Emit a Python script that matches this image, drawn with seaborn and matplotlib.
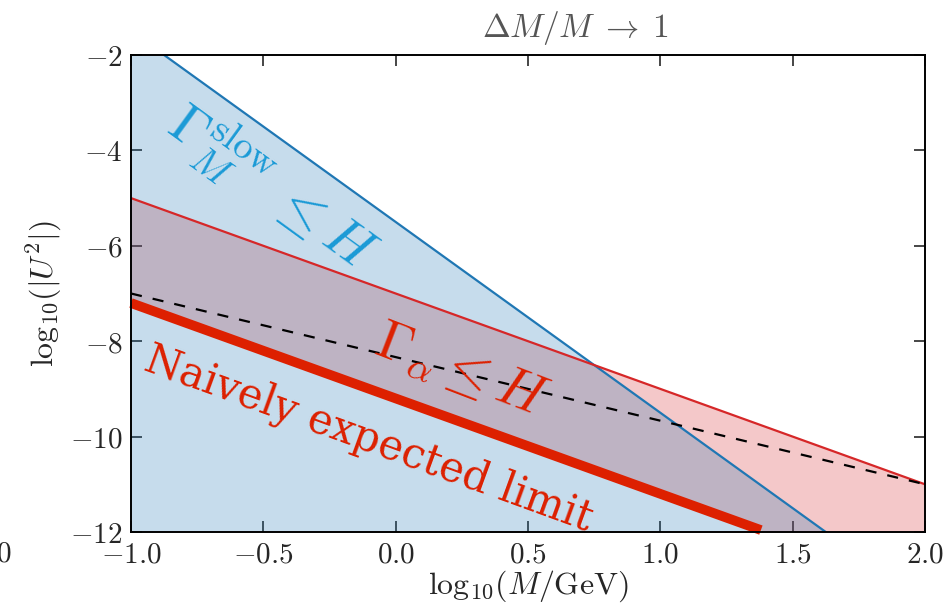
import numpy as np
import pandas as pd
import matplotlib
matplotlib.use("Agg")
import matplotlib.pyplot as plt
import seaborn as sns

# Boundary lines in (log10 M/GeV, log10 |U^2|)
mass_ends = [-1.0, 2.0]
slow_bound = [-1.5, -13.5]      # Gamma_M^slow <= H
alpha_bound = [-5.0, -11.0]     # Gamma_alpha <= H
dashed_ref = [-7.0, -11.0]
naive_mass = [-1.0, 1.38]
naive_limit = [-7.2, -11.96]

x_ticks = [-1.0, -0.5, 0.0, 0.5, 1.0, 1.5, 2.0]
y_ticks = [-12, -10, -8, -6, -4, -2]

sns.set_style("ticks")
plt.rcParams["font.family"] = ["DejaVu Serif"]
plt.rcParams["mathtext.fontset"] = "cm"
plt.rcParams["axes.unicode_minus"] = True

fig = plt.figure(figsize=(9.53, 6.16), dpi=100)
ax = fig.add_axes([131 / 953, 1 - 532 / 616, (925 - 131) / 953, (532 - 55) / 616])

# the alpha region is bounded below by the naive-limit line, extended across the range
naive_fit = np.polyfit(naive_mass, naive_limit, 1)
naive_ext = np.polyval(naive_fit, mass_ends)

ax.fill_between(mass_ends, alpha_bound, naive_ext, color="tab:red", alpha=0.25, lw=0)
ax.fill_between(mass_ends, slow_bound, -12, color="tab:blue", alpha=0.25, lw=0)

df = pd.DataFrame({"m": mass_ends, "slow": slow_bound, "alpha": alpha_bound, "dash": dashed_ref})
sns.lineplot(data=df, x="m", y="slow", color="tab:blue", lw=1.6, ax=ax)
sns.lineplot(data=df, x="m", y="alpha", color="tab:red", lw=1.6, ax=ax)
sns.lineplot(data=df, x="m", y="dash", color="black", lw=1.6, ax=ax, dashes=False,
             linestyle=(0, (5, 5)))
naive = pd.DataFrame({"m": naive_mass, "u": naive_limit})
sns.lineplot(data=naive, x="m", y="u", color="#dd2000", lw=7, ax=ax,
             solid_capstyle="butt", clip_on=False)

ax.set_xlim(-1, 2)
ax.set_ylim(-12, -2)
ax.set_xticks(x_ticks)
ax.set_yticks(y_ticks)
ax.set_xticklabels([f"${v:.1f}$" for v in x_ticks])
ax.set_yticklabels([f"${v}$" for v in y_ticks])
ax.tick_params(direction="in", length=8, width=1.2, top=True, right=True,
               labelsize=21, pad=6)
for s in ax.spines.values():
    s.set_linewidth(1.4)
    s.set_color("black")

ax.set_xlabel(r"$\mathrm{log}_{10}(M/\mathrm{GeV})$", fontsize=23, labelpad=0)
ax.set_ylabel(r"$\mathrm{log}_{10}(|U^2|)$", fontsize=23, labelpad=4)

fig.text(575 / 953, 1 - 28 / 616, r"$\Delta M/M \;\rightarrow\; 1$", fontsize=24,
         color="#555555", ha="center", va="center")
fig.text(12 / 953, 1 - 553 / 616, r"$2.0$", fontsize=21, ha="right", va="center")

ax.text(-0.10, -10.05, "Naively expected limit", fontsize=30, color="#dd2000",
        rotation=-20, ha="center", va="center")
ax.text(0.25, -8.6, r"$\Gamma_\alpha \leq H$", fontsize=40, color="#dd2000",
        rotation=-21, ha="center", va="center")
ax.text(-0.47, -4.8, r"$\Gamma_M^{\mathrm{slow}}\;\leq H$", fontsize=40,
        color="#1a9ad6", rotation=-36, ha="center", va="center")

fig.savefig("out.png", dpi=100)
